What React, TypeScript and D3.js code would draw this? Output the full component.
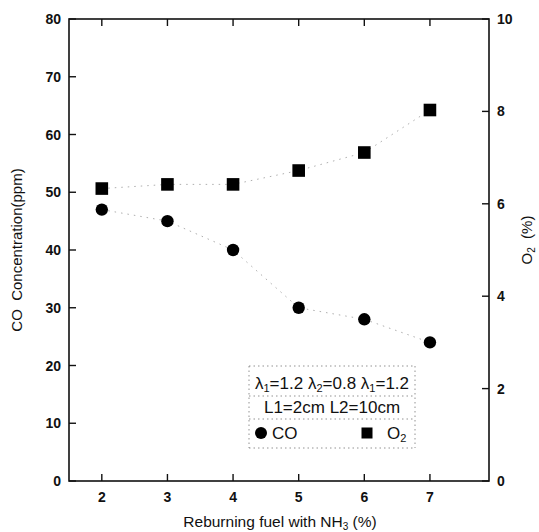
import React from "react";
import * as d3 from "d3";

const xValues = [2, 3, 4, 5, 6, 7];
const coValues = [47, 45, 40, 30, 28, 24];
const o2Values = [6.33, 6.42, 6.42, 6.72, 7.11, 8.03];
const xTicks = [2, 3, 4, 5, 6, 7];
const yLeftTicks = [0, 10, 20, 30, 40, 50, 60, 70, 80];
const yRightTicks = [0, 2, 4, 6, 8, 10];

const W = 539, H = 532;
const M = { left: 69, right: 489, top: 19, bottom: 481 };

export default function App() {
  const x = d3.scaleLinear().domain([1.5, 7.9]).range([M.left, M.right]);
  const yL = d3.scaleLinear().domain([0, 80]).range([M.bottom, M.top]);
  const yR = d3.scaleLinear().domain([0, 10]).range([M.bottom, M.top]);
  const font = "'Liberation Sans', Arial, sans-serif";
  const coLine = d3.line<number>().x((_, i) => x(xValues[i])).y((d) => yL(d))(coValues) || "";
  const o2Line = d3.line<number>().x((_, i) => x(xValues[i])).y((d) => yR(d))(o2Values) || "";
  const tl = 7;
  const lg = { x0: 249, x1: 415, y0: 366, y1: 448, s1: 396, s2: 419 };
  return (
    <svg width={W} height={H} style={{ position: "absolute", left: 0, top: 0, background: "#fff" }} fontFamily={font}>
      <rect x={0} y={0} width={W} height={H} fill="#fff" />
      {/* connecting dotted lines */}
      <path d={coLine} fill="none" stroke="#999" strokeWidth={0.8} strokeDasharray="1.5,5" />
      <path d={o2Line} fill="none" stroke="#999" strokeWidth={0.8} strokeDasharray="1.5,5" />
      {/* frame */}
      <rect x={M.left} y={M.top} width={M.right - M.left} height={M.bottom - M.top} fill="none" stroke="#111" strokeWidth={1.6} />
      {/* x ticks */}
      {xTicks.map((t) => (
        <g key={"x" + t}>
          <line x1={x(t)} x2={x(t)} y1={M.bottom} y2={M.bottom - tl} stroke="#111" strokeWidth={1.4} />
          <line x1={x(t)} x2={x(t)} y1={M.top} y2={M.top + tl} stroke="#111" strokeWidth={1.4} />
          <text x={x(t)} y={M.bottom + 21} textAnchor="middle" fontSize={14} fontWeight={600} fill="#111">{t}</text>
        </g>
      ))}
      {yLeftTicks.map((t) => (
        <g key={"yl" + t}>
          <line x1={M.left} x2={M.left + tl} y1={yL(t)} y2={yL(t)} stroke="#111" strokeWidth={1.4} />
          <text x={M.left - 8} y={yL(t) + 5} textAnchor="end" fontSize={14} fontWeight={600} fill="#111">{t}</text>
        </g>
      ))}
      {yRightTicks.map((t) => (
        <g key={"yr" + t}>
          <line x1={M.right} x2={M.right - tl} y1={yR(t)} y2={yR(t)} stroke="#111" strokeWidth={1.4} />
          <text x={M.right + 8} y={yR(t) + 5} textAnchor="start" fontSize={14} fontWeight={600} fill="#111">{t}</text>
        </g>
      ))}
      {/* markers */}
      {coValues.map((v, i) => (
        <circle key={"c" + i} cx={x(xValues[i])} cy={yL(v)} r={6.2} fill="#000" />
      ))}
      {o2Values.map((v, i) => (
        <rect key={"s" + i} x={x(xValues[i]) - 6.3} y={yR(v) - 6.3} width={12.6} height={12.6} fill="#000" />
      ))}
      {/* axis titles */}
      <text transform={`translate(22,${(M.top + M.bottom) / 2}) rotate(-90)`} textAnchor="middle" fontSize={15} fill="#111" style={{ whiteSpace: "pre" }}>
        {"CO  Concentration(ppm)"}
      </text>
      <text transform={`translate(532,240) rotate(-90)`} textAnchor="middle" fontSize={15} fill="#111" style={{ whiteSpace: "pre" }}>
        O<tspan fontSize={10} dy={3}>2</tspan><tspan dy={-3}>{"  (%)"}</tspan>
      </text>
      <text x={(M.left + M.right) / 2 + 1} y={527} textAnchor="middle" fontSize={15.5} fill="#111">
        Reburning fuel with NH<tspan fontSize={10} dy={3}>3</tspan><tspan dy={-3}> (%)</tspan>
      </text>
      {/* legend */}
      <g stroke="#777" strokeWidth={0.8} strokeDasharray="1.5,3" fill="none">
        <line x1={lg.x0} x2={lg.x1} y1={lg.y0} y2={lg.y0} />
        <line x1={lg.x0} x2={lg.x1} y1={lg.y1} y2={lg.y1} />
        <line x1={lg.x0} x2={lg.x0} y1={lg.y0} y2={lg.y1} />
        <line x1={lg.x1} x2={lg.x1} y1={lg.y0} y2={lg.y1} />
        <line x1={lg.x0} x2={lg.x1} y1={lg.s1} y2={lg.s1} />
        <line x1={lg.x0} x2={lg.x1} y1={lg.s2} y2={lg.s2} />
      </g>
      <text x={(lg.x0 + lg.x1) / 2} y={389} textAnchor="middle" fontSize={17} fill="#111">
        λ<tspan fontSize={11} dy={3}>1</tspan><tspan dy={-3}>=1.2 λ</tspan><tspan fontSize={11} dy={3}>2</tspan><tspan dy={-3}>=0.8 λ</tspan><tspan fontSize={11} dy={3}>1</tspan><tspan dy={-3}>=1.2</tspan>
      </text>
      <text x={(lg.x0 + lg.x1) / 2} y={413} textAnchor="middle" fontSize={17} fill="#111">
        L1=2cm L2=10cm
      </text>
      <circle cx={261} cy={433} r={6} fill="#000" />
      <text x={272} y={439} fontSize={17} fill="#111">CO</text>
      <rect x={361.5} y={427.5} width={11} height={11} fill="#000" />
      <text x={387} y={439} fontSize={17} fill="#111">
        O<tspan fontSize={11} dy={3}>2</tspan>
      </text>
    </svg>
  );
}
